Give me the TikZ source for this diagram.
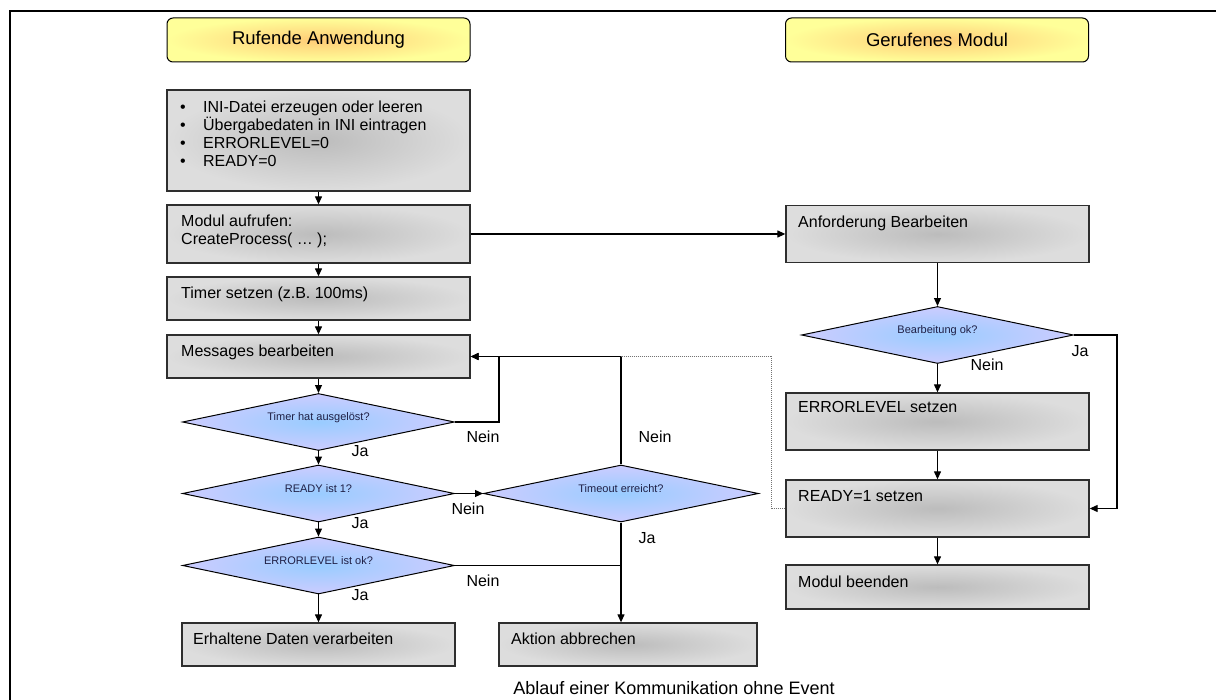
\documentclass[tikz,border=0pt]{standalone}
\usepackage{fontspec}
\setmainfont{Liberation Sans}
\usetikzlibrary{arrows.meta,shapes.geometric}

\definecolor{boxfill}{HTML}{DDDDDD}
\definecolor{boxcore}{HTML}{BCBCBC}
\definecolor{boxline}{HTML}{2E2E2E}
\definecolor{diafill}{HTML}{CCCCFF}
\definecolor{diacore}{HTML}{99CCFF}
\definecolor{hdrfill}{HTML}{FFFF99}
\definecolor{hdrcore}{HTML}{FFCC77}
\definecolor{diatext}{HTML}{1F1F45}

\begin{document}
\begin{tikzpicture}[x=1pt,y=-1pt,
  proc/.style={draw=boxline, line width=1.3pt, inner color=boxcore, outer color=boxfill,
    inner sep=0pt, minimum width=303pt},
  dec/.style={diamond, aspect=4.77, draw=black, line width=1pt, inner color=diacore,
    outer color=diafill, inner sep=0pt, minimum width=272pt, minimum height=57pt,
    text=diatext, font=\fontsize{11}{13}\selectfont, text height=8pt, text depth=10pt},
  hdr/.style={draw=black, line width=1pt, rounded corners=6pt, inner color=hdrcore,
    outer color=hdrfill, inner sep=0pt, minimum width=303pt, minimum height=44pt,
    font=\fontsize{18.5}{21}\selectfont},
  txt/.style={anchor=base west, inner sep=0pt, font=\fontsize{16}{18}\selectfont},
  lbl/.style={anchor=center, inner sep=0pt, font=\fontsize{16}{18}\selectfont},
  arr/.style={line width=1.2pt, -{Triangle[length=8pt,width=7pt]}},
  line/.style={line width=1.2pt},
  link/.style={line width=1pt, densely dotted, draw=black!55}]

\useasboundingbox (0,0) rectangle (1216,700);

% outer frame, open to the right and to the bottom
\draw[line width=2pt] (10,700) -- (10,11) -- (1216,11);

% column headers
\node[hdr] (hl) at (318.5,40) {Rufende Anwendung};
\node[hdr] (hr) at (937,40) {Gerufenes Modul};

% calling application
\node[proc, minimum height=101pt] (b1) at (318.5,140.5) {};
\node[txt] (b1a) at (180,113) {\makebox[23pt][l]{\textbullet}INI-Datei erzeugen oder leeren};
\node[txt] (b1b) at (180,131) {\makebox[23pt][l]{\textbullet}Übergabedaten in INI eintragen};
\node[txt] (b1c) at (180,149) {\makebox[23pt][l]{\textbullet}ERRORLEVEL=0};
\node[txt] (b1d) at (180,167) {\makebox[23pt][l]{\textbullet}READY=0};

\node[proc, minimum height=58pt] (b2) at (318.5,234) {};
\node[txt] (b2a) at (181,227) {Modul aufrufen:};
\node[txt] (b2b) at (181,245) {CreateProcess( … );};

\node[proc, minimum height=43pt] (b3) at (318.5,298.5) {};
\node[txt] (b3a) at (181,299) {Timer setzen (z.B. 100ms)};

\node[proc, minimum height=43pt] (b4) at (318.5,356.5) {};
\node[txt] (b4a) at (181,357) {Messages bearbeiten};

\node[dec] (d1) at (318.5,422) {Timer hat ausgelöst?};
\node[dec] (d2) at (318.5,493.5) {READY ist 1?};
\node[dec] (d3) at (318.5,565.5) {ERRORLEVEL ist ok?};
\node[dec, minimum width=275pt] (d5) at (621,493.5) {Timeout erreicht?};

\node[proc, minimum width=273pt, minimum height=43pt] (b5) at (318.5,644.5) {};
\node[txt] (b5a) at (193,644) {Erhaltene Daten verarbeiten};

\node[proc, minimum width=258pt, minimum height=43pt] (ak) at (628,644.5) {};
\node[txt] (aka) at (511,644) {Aktion abbrechen};

% called module
\node[proc, minimum height=57pt] (anf) at (937.5,234) {};
\node[txt] (anfa) at (798,228) {Anforderung Bearbeiten};

\node[dec] (d4) at (937.5,335) {Bearbeitung ok?};

\node[proc, minimum height=57pt] (err) at (937.5,421.5) {};
\node[txt] (erra) at (798,413) {ERRORLEVEL setzen};

\node[proc, minimum height=57pt] (rdy) at (937.5,508.5) {};
\node[txt] (rdya) at (798,501) {READY=1 setzen};

\node[proc, minimum height=44pt] (end) at (937.5,587) {};
\node[txt] (enda) at (798,587) {Modul beenden};

% bend points
\coordinate (c1) at (499,356.5);
\coordinate (c2) at (621,565.5);
\coordinate (c3) at (771,356.5);
\coordinate (c4) at (621,356.5);
\coordinate (jr) at (1117,508.5);

% flow, left column
\draw[arr] (b1) -- (b2);
\draw[arr] (b2) -- (b3);
\draw[arr] (b3) -- (b4);
\draw[arr] (b4) -- (d1);
\draw[arr] (d1) -- (d2);
\draw[arr] (d2) -- (d3);
\draw[arr] (d3) -- (b5);
\draw[arr] (d1.east) -| (c1) -- (b4.east);
\draw[arr] (d2.east) -- (d5.west);
\draw[arr] (d5.north) |- (b4.east);
\draw[line] (d3.east) -- (c2);
\draw[arr] (d5.south) -- (d5.south |- ak.north);

% call into the module
\draw[arr] (b2.east) -- (anf.west);

% flow, right column
\draw[arr] (anf) -- (d4);
\draw[arr] (d4) -- (err);
\draw[arr] (err) -- (rdy);
\draw[arr] (rdy) -- (end);
\draw[arr] (d4.east) -| (jr) -- (rdy.east);

% READY flag seen by the caller
\draw[link] (rdy.west) -| (c3) -- (c4);

% branch labels
\node[lbl] (l1) at (483,437) {Nein};
\node[lbl] (l2) at (655,437) {Nein};
\node[lbl] (l3) at (468,509) {Nein};
\node[lbl] (l4) at (647,538) {Ja};
\node[lbl] (l5) at (483,581) {Nein};
\node[lbl] (l6) at (360,451) {Ja};
\node[lbl] (l7) at (360,523) {Ja};
\node[lbl] (l8) at (360,595) {Ja};
\node[lbl] (l9) at (1080,351) {Ja};
\node[lbl] (l10) at (987,365) {Nein};

% caption
\node[lbl, anchor=base, font=\fontsize{18}{21}\selectfont] (cap) at (674,694) {Ablauf einer Kommunikation ohne Event};

\end{tikzpicture}
\end{document}
